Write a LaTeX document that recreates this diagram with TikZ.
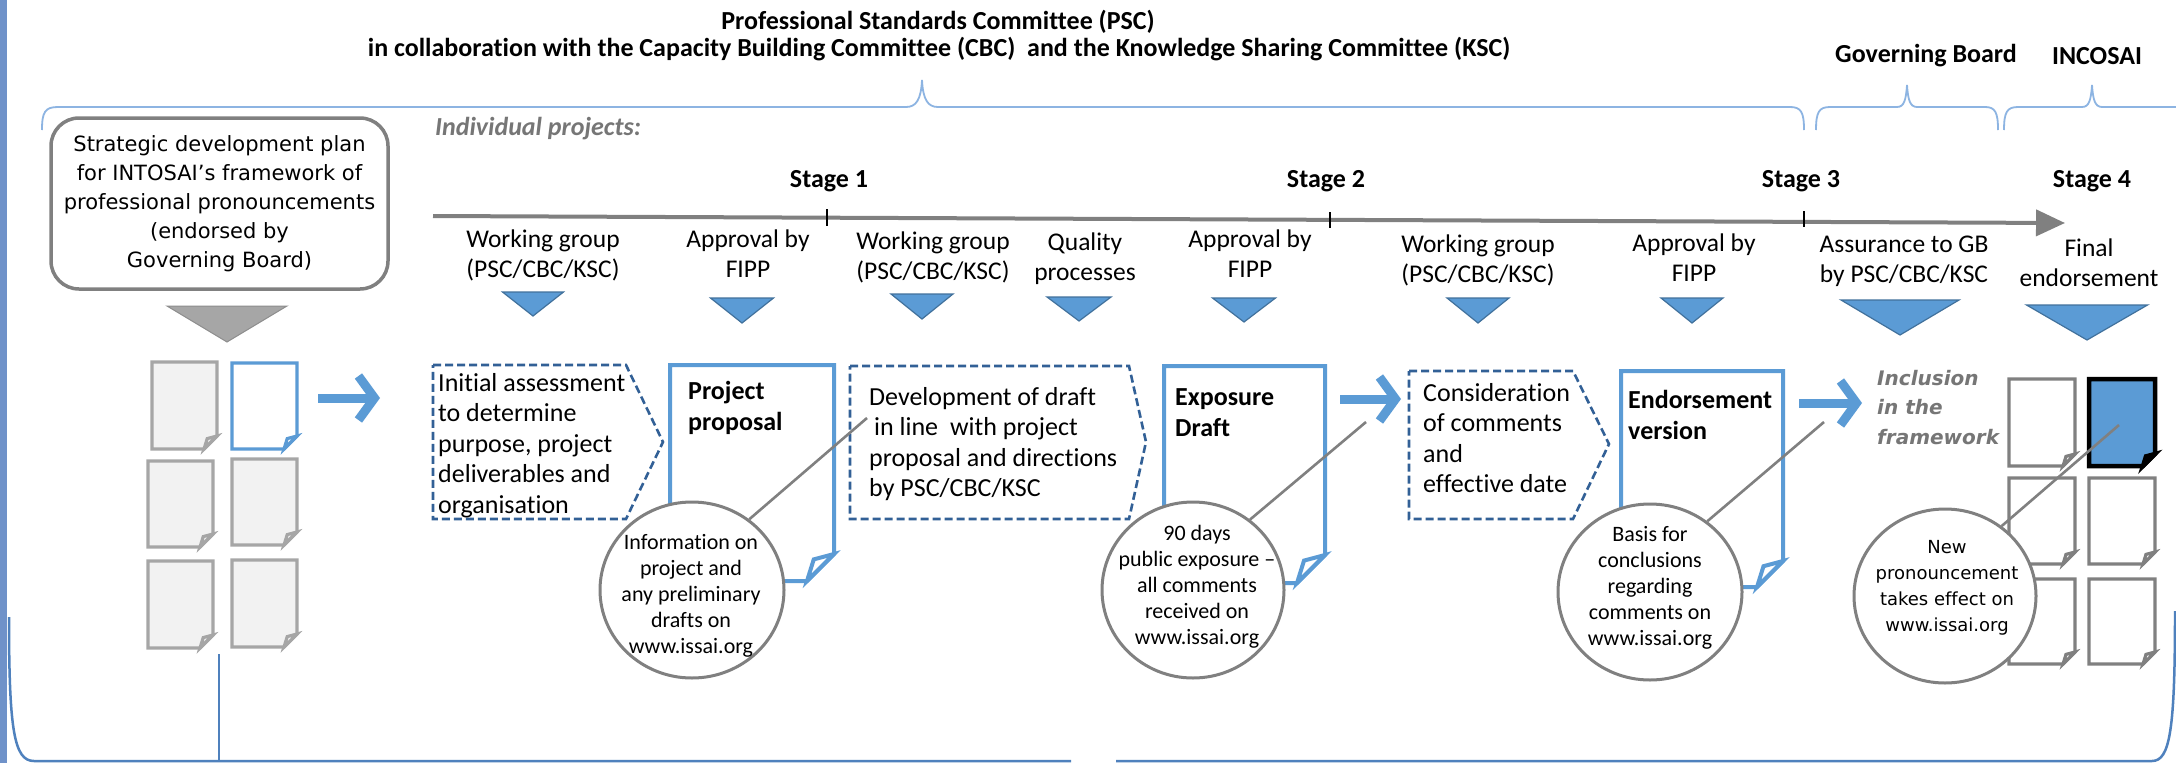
\documentclass[tikz,border=0pt]{standalone}
\usepackage{fontspec}
\setmainfont{Carlito}[Ligatures=NoCommon]
\newfontfamily\vfont{DejaVu Sans}[Ligatures=NoCommon]
\usetikzlibrary{arrows.meta,shapes.geometric}
\definecolor{bfill}{RGB}{91,155,213}
\definecolor{bdark}{RGB}{65,113,156}
\definecolor{dashb}{RGB}{50,96,150}
\definecolor{gline}{RGB}{128,128,128}
\definecolor{gtxt}{RGB}{118,118,118}
\definecolor{gdoc}{RGB}{242,242,242}
\definecolor{gdocb}{RGB}{166,166,166}
\definecolor{brc}{RGB}{141,180,226}
\definecolor{bord}{RGB}{79,129,189}
\definecolor{barc}{RGB}{111,146,201}
\newcommand\fsz[2]{\fontsize{#1}{#2}\selectfont}
\newcommand\dtri[4]{\filldraw[tri] ({#1-#4/2},#2) -- ({#1+#4/2},#2) -- (#1,#3) -- cycle;}
\newcommand\docp[6]{%
  \filldraw[#1] (#2,#3) -- (#4,#3) -- (#4,{#5-#6}) -- ({#4-#6},#5) -- (#2,#5) -- cycle;
  \filldraw[#1] ({#4-#6},#5) -- ({#4-0.75*#6},{#5-0.8*#6}) -- (#4,{#5-#6}) -- cycle;}
\tikzset{
  tri/.style={fill=bfill, draw=bdark, line width=1.2pt, line join=miter},
  dashpent/.style={draw=dashb, dash pattern=on 8pt off 4pt, line width=2.6pt, fill=white},
  bdoc/.style={draw=bfill, line width=4pt, fill=white, line join=miter},
  gdocst/.style={draw=gdocb, line width=3.2pt, fill=gdoc},
  wdocst/.style={draw=gline, line width=3.2pt, fill=white},
  ndocst/.style={draw=black, line width=4.5pt, fill=bfill},
  ell/.style={ellipse, draw=gline, line width=3pt, fill=white, inner sep=0pt},
  callout/.style={draw=gline, line width=2.6pt},
  bigarrow/.style={draw=bfill, line width=9pt, -{Straight Barb[length=16pt,width=44pt]}},
  brace/.style={draw=brc, line width=1.8pt},
  frame/.style={draw=bord, line width=2.5pt},
  tick/.style={draw=black, line width=2.4pt},
  lbl/.style={anchor=north, inner sep=0pt, align=center, font=\fsz{25.5}{29.5}},
  ptxt/.style={anchor=north west, inner sep=0pt, align=left, font=\fsz{26}{30.5}},
  dtxt/.style={anchor=north west, inner sep=0pt, align=left, font=\fsz{26}{31}\bfseries},
  etxt/.style={anchor=north, inner sep=0pt, align=center, font=\fsz{22}{26}},
  stage/.style={inner sep=0pt, font=\fsz{26}{31}\bfseries},
}
\begin{document}
\begin{tikzpicture}[x=1pt,y=-1pt]
\useasboundingbox (0,0) rectangle (2176,763);
\fill[white] (0,0) rectangle (2176,763);
\fill[barc] (0,0) rectangle (7,763);
% titles
\node[stage] (t1) at (938,22) {Professional Standards Committee (PSC)};
\node[stage] (t2) at (939,49) {in collaboration with the Capacity Building Committee (CBC) \ and the Knowledge Sharing Committee (KSC)};
\node[stage] (gb) at (1926,56) {Governing Board};
\node[stage] (inc) at (2097,56) {INCOSAI};
% braces
\draw[brace] (42,130) .. controls (42,112) and (45,107) .. (58,107) -- (906,107) .. controls (916,107) and (921,100) .. (922,80) .. controls (923,100) and (928,107) .. (938,107) -- (1790,107) .. controls (1801,107) and (1804,112) .. (1804,130);
\draw[brace] (1816,130) .. controls (1816,112) and (1819,107) .. (1830,107) -- (1897,107) .. controls (1904,107) and (1906,100) .. (1907,85) .. controls (1908,100) and (1910,107) .. (1917,107) -- (1985,107) .. controls (1995,107) and (1998,112) .. (1998,130);
\draw[brace] (2004,130) .. controls (2004,112) and (2007,107) .. (2018,107) -- (2082,107) .. controls (2089,107) and (2091,100) .. (2092,85) .. controls (2093,100) and (2095,107) .. (2102,107) -- (2176,107);
% frame
\draw[frame] (9,617) .. controls (9,730) and (14,761) .. (34,761) -- (1071,761);
\draw[frame] (1116,761) -- (2152,761) .. controls (2170,761) and (2175,730) .. (2175,611);
\draw[frame] (219,654) -- (219,761);
% individual projects
\node[anchor=west, inner sep=0pt, font=\fsz{26}{31}\bfseries\itshape, text=gtxt] (ip) at (435,129) {Individual projects:};
% strategic box
\node[draw=gline, line width=3.5pt, rounded corners=28pt, minimum width=337pt, minimum height=171pt, inner sep=0pt, align=center, font=\vfont\fsz{21}{29}] (sdp) at (219.5,203.5)
  {\strut Strategic development plan\\\strut for INTOSAI’s framework of\\\strut professional pronouncements\\\strut (endorsed by\\\strut Governing Board)};
\filldraw[fill=gdocb, draw=gdocb!85!black, line width=1pt] (167,306) -- (287,306) -- (227,342) -- cycle;
% left docs
\docp{gdocst}{152}{362}{217}{449}{13}
\docp{bdoc,line width=3.2pt}{232}{363}{297}{449}{13}
\docp{gdocst}{148}{461}{213}{547}{13}
\docp{gdocst}{232}{459}{297}{545}{13}
\docp{gdocst}{148}{561}{213}{648}{13}
\docp{gdocst}{232}{560}{297}{647}{13}
% timeline
\coordinate (tl0) at (433,216);
\coordinate (tl1) at (2065,223);
\draw[line width=4pt, gline, -{Triangle[length=29pt,width=26pt]}] (tl0) -- (tl1);
\draw[tick] (827,209) -- (827,226);
\draw[tick] (1330,212) -- (1330,228);
\draw[tick] (1804,211) -- (1804,227);
\node[stage] (st1) at (829,181) {Stage 1};
\node[stage] (st2) at (1326,181) {Stage 2};
\node[stage] (st3) at (1801,181) {Stage 3};
\node[stage] (st4) at (2092,181) {Stage 4};
% labels
\node[lbl] (l1) at (543,227) {\strut Working group\\\strut (PSC/CBC/KSC)};
\node[lbl] (l2) at (748,227) {\strut Approval by\\\strut FIPP};
\node[lbl] (l3) at (933,229) {\strut Working group\\\strut (PSC/CBC/KSC)};
\node[lbl] (l4) at (1085,230) {\strut Quality\\\strut processes};
\node[lbl] (l5) at (1250,227) {\strut Approval by\\\strut FIPP};
\node[lbl] (l6) at (1478,232) {\strut Working group\\\strut (PSC/CBC/KSC)};
\node[lbl] (l7) at (1694,231) {\strut Approval by\\\strut FIPP};
\node[lbl] (l8) at (1904,232) {\strut Assurance to GB\\\strut by PSC/CBC/KSC};
\node[lbl] (l9) at (2089,236) {\strut Final\\\strut endorsement};
% triangles
\dtri{533}{292}{316}{61}
\dtri{742}{298}{323}{63}
\dtri{922}{294}{319}{62}
\dtri{1079}{297}{321}{64}
\dtri{1244}{298}{322}{63}
\dtri{1478}{298}{323}{62}
\dtri{1692}{298}{323}{62}
\dtri{1900}{300}{335}{118}
\dtri{2087}{305}{340}{121}
% pentagons
\filldraw[dashpent] (433,365) -- (626,365) -- (663,442) -- (626,519) -- (433,519) -- cycle;
\filldraw[dashpent] (850,366) -- (1129,366) -- (1146,442) -- (1129,519) -- (850,519) -- cycle;
\filldraw[dashpent] (1409,371) -- (1573,371) -- (1609,444) -- (1573,519) -- (1409,519) -- cycle;
\node[ptxt] (pa) at (438,369.5) {\strut Initial assessment\\\strut to determine\\\strut purpose, project\\\strut deliverables and\\\strut organisation};
\node[ptxt] (pc) at (869,383.5) {\strut Development of draft\\\strut\hspace{5pt}in line\hspace{6pt} with project\\\strut proposal and directions\\\strut by PSC/CBC/KSC};
\node[ptxt] (pe) at (1423,379.5) {\strut Consideration\\\strut of comments\\\strut and\\\strut effective date};
% blue docs
\docp{bdoc}{670}{365}{834}{581}{27}
\docp{bdoc}{1164}{366}{1325}{583}{28}
\docp{bdoc}{1621}{371}{1783}{587}{26}
\node[dtxt] (db) at (688,377.5) {\strut Project\\\strut proposal};
\node[dtxt] (dd) at (1175,383.5) {\strut Exposure\\\strut Draft};
\node[dtxt] (df) at (1628,386.5) {\strut Endorsement\\\strut version};
% arrows
\coordinate (a1s) at (318,398); \coordinate (a1e) at (380,398);
\coordinate (a2s) at (1340,399); \coordinate (a2e) at (1401,399);
\coordinate (a3s) at (1799,403); \coordinate (a3e) at (1862,403);
\draw[bigarrow] (a1s) -- (a1e);
\draw[bigarrow] (a2s) -- (a2e);
\draw[bigarrow] (a3s) -- (a3e);
% inclusion text
\node[anchor=north west, inner sep=0pt, align=left, font=\vfont\fsz{20}{29.5}\bfseries\itshape, text=gtxt] (incl) at (1877,364.4) {\strut Inclusion\\\strut in the\\\strut framework};
% right docs
\docp{wdocst}{2009}{379}{2075}{466}{12}
\docp{ndocst}{2089}{379}{2155}{466}{12}
\docp{wdocst}{2009}{478}{2075}{564}{12}
\docp{wdocst}{2089}{478}{2155}{564}{12}
\docp{wdocst}{2009}{579}{2075}{664}{12}
\docp{wdocst}{2089}{579}{2155}{664}{12}
% ellipses
\node[ell, minimum width=184pt, minimum height=176pt] (e1) at (692,590) {};
\node[ell, minimum width=182pt, minimum height=176pt] (e2) at (1193,590) {};
\node[ell, minimum width=184pt, minimum height=176pt] (e3) at (1650,592) {};
\node[ell, minimum width=182pt, minimum height=174pt] (e4) at (1945,596) {};
\node[etxt] (e1t) at (691,531.4) {\strut Information on\\\strut project and\\\strut any preliminary\\\strut drafts on\\\strut www.issai.org};
\node[etxt] (e2t) at (1197,522.4) {\strut 90 days\\\strut public exposure –\\\strut all comments\\\strut received on\\\strut www.issai.org};
\node[etxt] (e3t) at (1650,523.4) {\strut Basis for\\\strut conclusions\\\strut regarding\\\strut comments on\\\strut www.issai.org};
\node[anchor=north, inner sep=0pt, align=center, font=\vfont\fsz{18}{26}] (e4t) at (1947,535.2) {\strut New\\\strut pronouncement\\\strut takes effect on\\\strut www.issai.org};
% callouts
\coordinate (c1) at (867,418);
\coordinate (c2) at (1366,422);
\coordinate (c3) at (1824,422);
\coordinate (c4) at (2119,425);
\draw[callout] (e1.51) -- (c1);
\draw[callout] (e2.51) -- (c2);
\draw[callout] (e3.51) -- (c3);
\draw[callout] (e4.51) -- (c4);
\end{tikzpicture}
\end{document}
